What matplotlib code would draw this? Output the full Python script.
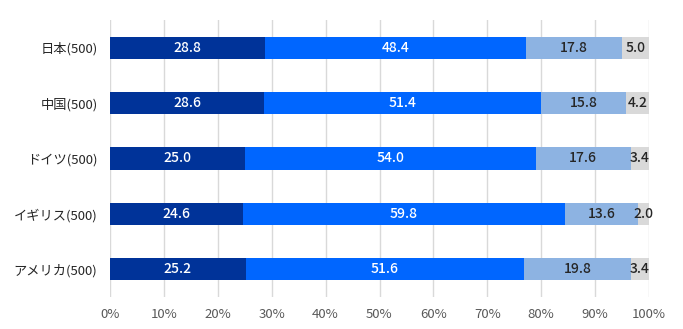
import numpy as np
import matplotlib
matplotlib.use("Agg")
import matplotlib.pyplot as plt

plt.rcParams["font.family"] = ["Noto Sans CJK JP", "DejaVu Sans"]

countries = ["日本(500)", "中国(500)", "ドイツ(500)", "イギリス(500)", "アメリカ(500)"]
seg1 = [28.8, 28.6, 25.0, 24.6, 25.2]
seg2 = [48.4, 51.4, 54.0, 59.8, 51.6]
seg3 = [17.8, 15.8, 17.6, 13.6, 19.8]
seg4 = [5.0, 4.2, 3.4, 2.0, 3.4]

colors = ["#003399", "#0066ff", "#8db3e2", "#d9d9d9"]
text_colors = ["white", "white", "#262626", "#262626"]

fig = plt.figure(figsize=(6.83, 3.29), dpi=100)
ax = fig.add_axes([110 / 683, 1 - 297 / 329, 539 / 683, 277 / 329])

y = np.arange(len(countries))
left = np.zeros(len(countries))
for vals, col, tcol in zip([seg1, seg2, seg3, seg4], colors, text_colors):
    vals = np.array(vals)
    ax.barh(y, vals, left=left, height=0.4, color=col, zorder=2)
    for yi, l, v in zip(y, left, vals):
        ax.text(l + v / 2, yi, f"{v:.1f}", ha="center", va="center",
                fontsize=10, fontweight="medium", color=tcol, zorder=3)
    left += vals

ax.set_xlim(0, 100)
ax.set_ylim(len(countries) - 0.5, -0.5)
ax.set_xticks(np.arange(0, 101, 10))
ax.set_xticklabels([f"{t}%" for t in range(0, 101, 10)])
ax.set_yticks(y)
ax.set_yticklabels(countries)
ax.tick_params(axis="x", length=0, labelsize=9.5, labelcolor="#595959", pad=8)
ax.tick_params(axis="y", length=0, labelsize=9.5, labelcolor="#262626", pad=9)
ax.grid(axis="x", color="#d9d9d9", lw=1, zorder=0)
for s in ax.spines.values():
    s.set_visible(False)

fig.savefig("out.png")
